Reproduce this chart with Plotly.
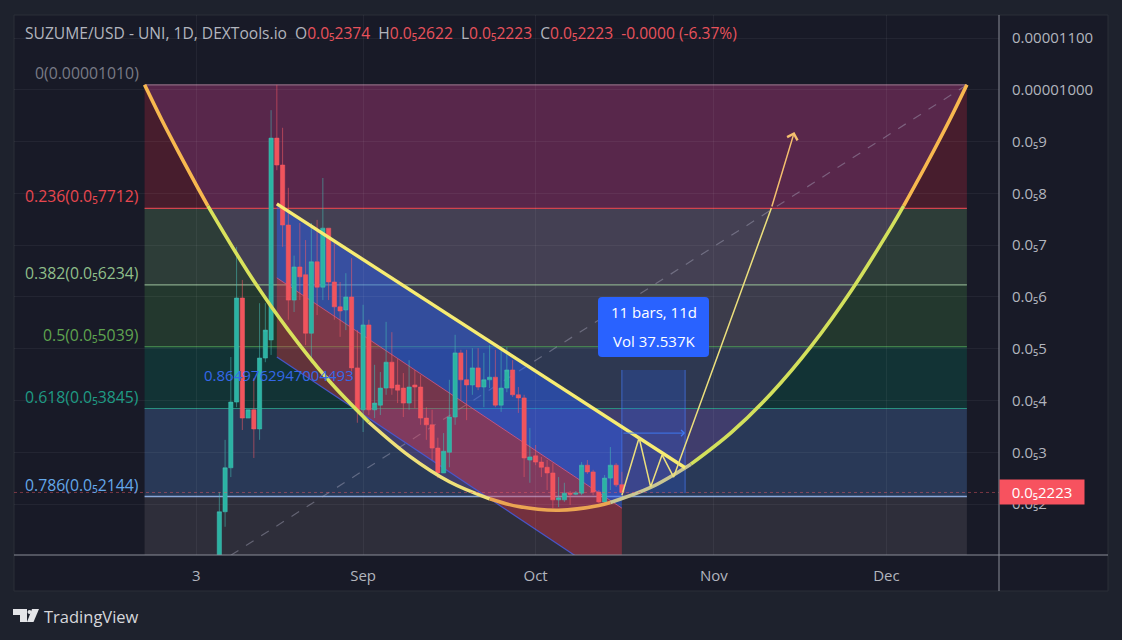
import pandas as pd
import plotly.graph_objects as go

FONT = "Open Sans"
W, H = 1122, 640
PLOT_L, PLOT_R, PLOT_T, PLOT_B = 14, 999, 15, 555

# Daily bars, prices in units of 0.000001 USD
bar_dates = pd.date_range("2024-08-07", periods=71, freq="D")
opens = [0.75, 1.85, 2.70, 3.97, 5.98, 3.66, 3.82, 3.45, 4.82, 5.17, 9.07, 8.55, 7.39, 5.94, 6.58, 6.43,
         5.30, 6.68, 6.19, 7.33, 6.29, 5.81, 5.75, 6.00, 4.63, 3.82, 5.46, 3.82, 3.91, 4.24, 4.74, 4.30,
         4.24, 3.95, 4.30, 4.26, 3.66, 3.53, 3.08, 2.60, 3.00, 3.68, 4.92, 4.40, 4.30, 4.63, 4.26, 4.40,
         4.45, 3.91, 4.24, 4.59, 4.11, 4.05, 2.85, 2.93, 2.81, 2.71, 2.60, 2.08, 2.08, 2.21, 2.19, 2.21,
         2.75, 2.62, 2.23, 2.04, 2.50, 2.75, 2.374]
highs = [2.23, 3.24, 4.84, 6.97, 6.33, 3.82, 4.43, 5.88, 5.88, 9.61, 10.10, 9.27, 8.11, 6.80, 7.43, 7.10,
         7.43, 7.49, 8.30, 7.33, 7.04, 6.29, 6.46, 6.75, 5.36, 5.85, 5.56, 4.69, 4.55, 5.52, 5.32, 4.80,
         4.53, 4.78, 4.59, 4.49, 3.87, 3.82, 3.28, 3.37, 4.40, 5.27, 4.98, 4.98, 5.01, 5.01, 4.92, 5.07,
         4.98, 4.98, 5.03, 4.78, 4.26, 4.11, 3.47, 3.14, 2.91, 2.85, 2.79, 2.52, 2.41, 2.25, 2.25, 2.81,
         2.85, 2.66, 2.27, 2.56, 3.10, 2.79, 2.622]
lows = [0.70, 1.56, 2.52, 3.87, 3.43, 3.66, 2.89, 3.24, 4.74, 4.88, 8.45, 6.97, 5.56, 5.71, 5.94, 5.07,
        4.72, 5.65, 5.94, 5.94, 5.56, 5.23, 5.36, 4.53, 3.57, 3.39, 3.72, 3.66, 3.72, 4.11, 4.11, 3.95,
        3.68, 3.82, 3.85, 3.53, 3.24, 2.85, 2.50, 2.60, 2.71, 3.53, 4.01, 3.62, 4.11, 4.20, 3.87, 4.24,
        3.87, 3.78, 4.16, 4.07, 3.76, 2.52, 2.41, 2.75, 2.52, 2.27, 1.92, 1.94, 2.04, 1.98, 2.17, 2.17,
        2.58, 2.17, 2.02, 2.02, 2.27, 2.33, 2.223]
closes = [1.85, 2.70, 3.97, 5.98, 3.66, 3.82, 3.45, 4.82, 5.36, 9.07, 8.55, 7.39, 5.94, 6.58, 6.39, 5.30,
          6.68, 6.19, 7.33, 6.29, 5.81, 5.73, 6.00, 4.63, 3.82, 5.46, 3.82, 3.95, 4.24, 4.74, 4.24, 4.20,
          3.95, 4.26, 4.26, 3.66, 3.53, 3.08, 2.60, 3.02, 3.68, 4.92, 4.40, 4.30, 4.63, 4.26, 4.40, 4.45,
          3.91, 4.24, 4.59, 4.11, 4.05, 2.89, 2.91, 2.81, 2.71, 2.60, 2.08, 2.12, 2.21, 2.19, 2.21, 2.75,
          2.62, 2.23, 2.04, 2.50, 2.75, 2.37, 2.223]

# Fibonacci retracement levels
fib_ratios = ["0", "0.236", "0.382", "0.5", "0.618", "0.786"]
fib_prices = [10.10, 7.712, 6.234, 5.039, 3.845, 2.144]
fib_price_text = ["0.00001010", "0.0₅7712", "0.0₅6234", "0.0₅5039", "0.0₅3845", "0.0₅2144"]
fib_text_colors = ["#787b86", "#e8474f", "#8fbf8a", "#5fa34f", "#1f9a84", "#64a8ea"]
fib_line_colors = ["#8a6a80", "#d2444e", "#87a889", "#4e9a55", "#2a8f80", "#8aa7d8"]
fib_line_widths = [1.2, 1.2, 1.4, 1.2, 1.2, 1.6]
fib_band_colors = ["#4a1e2e", "#2f4039", "#243a2f", "#123536", "#2a3b5a", "#30303c"]
fib_start, fib_end = "2024-07-25", "2024-12-15"
fib_floor = 0.9

# Rounded-bottom curve, grouped by stroke colour
curve_groups = [
    (["2024-07-25", "2024-07-28", "2024-07-31", "2024-08-03", "2024-08-05"],
     [10.10, 9.42, 8.78, 8.16, 7.76], "#f7b84f"),
    (["2024-08-05", "2024-08-12", "2024-08-19", "2024-08-26", "2024-09-02"],
     [7.76, 6.48, 5.36, 4.39, 3.58], "#d9e25c"),
    (["2024-09-02", "2024-09-09", "2024-09-16", "2024-09-23"],
     [3.58, 2.93, 2.43, 2.10], "#efe07a"),
    (["2024-09-23", "2024-09-28", "2024-10-05", "2024-10-12", "2024-10-14"],
     [2.10, 1.95, 1.88, 1.97, 2.03], "#eba552"),
    (["2024-10-14", "2024-10-21", "2024-10-28"],
     [2.03, 2.32, 2.77], "#c9c692"),
    (["2024-10-28", "2024-11-04", "2024-11-11", "2024-11-18", "2024-11-25", "2024-12-02", "2024-12-04"],
     [2.77, 3.38, 4.14, 5.06, 6.14, 7.38, 7.76], "#d3e05c"),
    (["2024-12-04", "2024-12-08", "2024-12-12", "2024-12-15"],
     [7.76, 8.57, 9.42, 10.10], "#f7b84f"),
]
curve_control_date, curve_control_price = "2024-10-05", -6.34

# Descending channel
channel_start, channel_end = "2024-08-17", "2024-10-16"
channel_top = [7.80, 3.47]
channel_mid = [6.37, 1.92]
channel_bottom = [4.84, 0.40]

# Resistance line and projected swing
resistance_dates = ["2024-08-17", "2024-10-27"]
resistance_prices = [7.80, 2.70]
swing_dates = ["2024-10-16", "2024-10-19", "2024-10-21", "2024-10-23", "2024-10-25", "2024-11-11"]
swing_prices = [2.17, 3.28, 2.33, 2.95, 2.52, 7.72]
target_date, target_price = "2024-11-15", 9.19

# Date-range measure
range_start, range_end = "2024-10-16", "2024-10-27"
range_top, range_bottom, range_mid = 4.59, 2.21, 3.37
range_lines = ["11 bars, 11d", "Vol 37.537K"]

# Trend line of the retracement tool
trend_dates = ["2024-08-09", "2024-12-15"]
trend_prices = [1.01, 10.10]

last_price = 2.223
last_price_text = "0.0₅2223"

y_tick_vals = [11, 10, 9, 8, 7, 6, 5, 4, 3, 2]
y_tick_text = ["0.00001100", "0.00001000", "0.0₅9", "0.0₅8", "0.0₅7", "0.0₅6", "0.0₅5", "0.0₅4", "0.0₅3", "0.0₅2"]
x_tick_vals = ["2024-08-03", "2024-09-01", "2024-10-01", "2024-11-01", "2024-12-01"]
x_tick_text = ["3", "Sep", "Oct", "Nov", "Dec"]


def px(x):
    return (x - PLOT_L) / (PLOT_R - PLOT_L)


def py(y):
    return (PLOT_B - y) / (PLOT_B - PLOT_T)


def path_pts(points):
    head, *rest = points
    return f"M {px(head[0])} {py(head[1])} " + " ".join(f"L {px(a)} {py(b)}" for a, b in rest) + " Z"


fig = go.Figure()

fig.add_trace(go.Candlestick(
    x=bar_dates, open=opens, high=highs, low=lows, close=closes,
    increasing=dict(line=dict(color="rgba(70,190,180,0.55)", width=1), fillcolor="#2bb3a3"),
    decreasing=dict(line=dict(color="rgba(245,90,100,0.55)", width=1), fillcolor="#f0545c"),
    hoverinfo="skip", showlegend=False,
))

for dates, prices, color in curve_groups:
    fig.add_trace(go.Scatter(x=dates, y=prices, mode="lines", hoverinfo="skip", showlegend=False,
                             line=dict(color=color, width=3.6, shape="spline")))

fig.add_trace(go.Scatter(x=resistance_dates, y=resistance_prices, mode="lines", hoverinfo="skip",
                         showlegend=False, line=dict(color="#f7ec72", width=3.4)))
fig.add_trace(go.Scatter(x=swing_dates, y=swing_prices, mode="lines", hoverinfo="skip",
                         showlegend=False, line=dict(color="#ecdf7c", width=1.5)))

shapes = []

# Outer panel and its dividers
shapes.append(dict(type="rect", xref="paper", yref="paper", layer="below",
                   x0=px(14), x1=px(1108), y0=py(591), y1=py(15),
                   fillcolor="#181a27", line=dict(color="#2a2e39", width=1)))

# Fibonacci bands, the lowest one running down to the chart floor
band_edges = fib_prices + [fib_floor]
for i, color in enumerate(fib_band_colors):
    shapes.append(dict(type="rect", xref="x", yref="y", layer="below",
                       x0=fib_start, x1=fib_end, y0=band_edges[i + 1], y1=band_edges[i],
                       fillcolor=color, opacity=0.94, line=dict(width=0)))

# Translucent body of the rounded bottom
shapes.append(dict(type="path", xref="x", yref="y", layer="below",
                   path=f"M {fib_start} {fib_prices[0]} Q {curve_control_date} {curve_control_price} "
                        f"{fib_end} {fib_prices[0]} Z",
                   fillcolor="rgba(160,80,195,0.2)", line=dict(width=0)))

for price, color, width in zip(fib_prices, fib_line_colors, fib_line_widths):
    shapes.append(dict(type="line", xref="x", yref="y", layer="below",
                       x0=fib_start, x1=fib_end, y0=price, y1=price, line=dict(color=color, width=width)))

shapes.append(dict(type="line", xref="x", yref="y", layer="below",
                   x0=trend_dates[0], x1=trend_dates[1], y0=trend_prices[0], y1=trend_prices[1],
                   line=dict(color="rgba(175,175,195,0.42)", width=1.2, dash="dash")))

# Channel halves
shapes.append(dict(type="path", xref="x", yref="y", layer="below",
                   path=f"M {channel_start} {channel_top[0]} L {channel_end} {channel_top[1]} "
                        f"L {channel_end} {channel_mid[1]} L {channel_start} {channel_mid[0]} Z",
                   fillcolor="rgba(41,98,255,0.45)", line=dict(width=0)))
shapes.append(dict(type="path", xref="x", yref="y", layer="below",
                   path=f"M {channel_start} {channel_mid[0]} L {channel_end} {channel_mid[1]} "
                        f"L {channel_end} {channel_bottom[1]} L {channel_start} {channel_bottom[0]} Z",
                   fillcolor="rgba(242,54,69,0.36)", line=dict(width=0)))
shapes.append(dict(type="line", xref="x", yref="y", layer="below",
                   x0=channel_start, x1=channel_end, y0=channel_mid[0], y1=channel_mid[1],
                   line=dict(color="rgba(225,90,130,0.75)", width=1)))
shapes.append(dict(type="line", xref="x", yref="y", layer="below",
                   x0=channel_start, x1=channel_end, y0=channel_bottom[0], y1=channel_bottom[1],
                   line=dict(color="rgba(70,90,215,0.9)", width=1.2)))

# Date-range measure box
shapes.append(dict(type="rect", xref="x", yref="y", layer="below",
                   x0=range_start, x1=range_end, y0=range_bottom, y1=range_top,
                   fillcolor="rgba(41,98,255,0.22)", line=dict(width=0)))
for edge in (range_start, range_end):
    shapes.append(dict(type="line", xref="x", yref="y", layer="below",
                       x0=edge, x1=edge, y0=range_bottom, y1=range_top,
                       line=dict(color="rgba(70,120,240,0.7)", width=1)))

# Last-price dotted marker line
shapes.append(dict(type="line", xref="paper", yref="y", layer="above",
                   x0=0, x1=1, y0=last_price, y1=last_price,
                   line=dict(color="rgba(240,90,100,0.45)", width=1, dash="dot")))

# Tooltip backing above the drawings
shapes.append(dict(type="path", xref="paper", yref="paper", layer="above",
                   path=(f"M {px(602)} {py(297)} L {px(705)} {py(297)} Q {px(709)} {py(297)} {px(709)} {py(301)} "
                         f"L {px(709)} {py(353)} Q {px(709)} {py(357)} {px(705)} {py(357)} L {px(602)} {py(357)} "
                         f"Q {px(598)} {py(357)} {px(598)} {py(353)} L {px(598)} {py(301)} "
                         f"Q {px(598)} {py(297)} {px(602)} {py(297)} Z"),
                   fillcolor="#2962ff", line=dict(width=0)))

# Axis dividers
shapes.append(dict(type="line", xref="paper", yref="paper", layer="above",
                   x0=px(999), x1=px(999), y0=py(591), y1=py(15), line=dict(color="#8a8d98", width=1)))
shapes.append(dict(type="line", xref="paper", yref="paper", layer="above",
                   x0=px(14), x1=px(1108), y0=py(555), y1=py(555), line=dict(color="#8a8d98", width=1)))

# Brand mark
logo_color = "#e4e5e8"
shapes.append(dict(type="path", xref="paper", yref="paper", layer="above",
                   path=path_pts([(13, 609), (27, 609), (27, 622), (20, 622), (20, 615), (13, 615)]),
                   fillcolor=logo_color, line=dict(width=0)))
shapes.append(dict(type="path", xref="paper", yref="paper", layer="above",
                   path=path_pts([(32, 609), (39, 609), (33.5, 622), (27, 622)]),
                   fillcolor=logo_color, line=dict(width=0)))
shapes.append(dict(type="circle", xref="paper", yref="paper", layer="above",
                   x0=px(27.5), x1=px(31.5), y0=py(614), y1=py(610),
                   fillcolor=logo_color, line=dict(width=0)))

annotations = []


def text_at(x, y, text, size, color, xanchor="left", yanchor="middle", **kw):
    annotations.append(dict(xref="paper", yref="paper", x=px(x), y=py(y), text=text, showarrow=False,
                            xanchor=xanchor, yanchor=yanchor,
                            font=dict(family=FONT, size=size, color=color), **kw))


RED = "#e8525c"
GREY = "#b2b5be"
header = (
    "SUZUME/USD - UNI, 1D, DEXTools.io&nbsp;&nbsp;"
    f"O<span style='color:{RED}'>0.0₅2374</span>&nbsp;&nbsp;"
    f"H<span style='color:{RED}'>0.0₅2622</span>&nbsp;&nbsp;"
    f"L<span style='color:{RED}'>0.0₅2223</span>&nbsp;&nbsp;"
    f"C<span style='color:{RED}'>0.0₅2223</span>&nbsp;&nbsp;"
    f"<span style='color:{RED}'>-0.0000 (-6.37%)</span>"
)
text_at(23, 33, header, 15.6, GREY)

for ratio, price, text, color in zip(fib_ratios, fib_prices, fib_price_text, fib_text_colors):
    annotations.append(dict(xref="x", yref="y", x=fib_start, y=price, text=f"{ratio}({text})", showarrow=False,
                            xanchor="right", yanchor="bottom", xshift=-5, yshift=0,
                            font=dict(family=FONT, size=15.8, color=color), borderpad=0))

annotations.append(dict(xref="x", yref="y", x="2024-08-04", y=4.49, text="0.8649762947004493", showarrow=False,
                        xanchor="left", yanchor="middle", font=dict(family=FONT, size=15, color="#3468e8")))

text_at(654, 312, range_lines[0], 15, "#ffffff", xanchor="center")
text_at(654, 341, range_lines[1], 15, "#ffffff", xanchor="center")

# Projected target arrow and the measure's direction arrow
annotations.append(dict(xref="x", yref="y", axref="x", ayref="y", x=target_date, y=target_price,
                        ax=swing_dates[-1], ay=swing_prices[-1], text="", showarrow=True,
                        arrowhead=4, arrowsize=1.4, arrowwidth=1.5, arrowcolor="#f4bf6e"))
annotations.append(dict(xref="x", yref="y", axref="x", ayref="y", x=range_end, y=range_mid,
                        ax=range_start, ay=range_mid, text="", showarrow=True,
                        arrowhead=4, arrowsize=1.2, arrowwidth=1, arrowcolor="#3f78f0"))

# Last-price tag on the scale
annotations.append(dict(xref="paper", yref="y", x=1, y=last_price, text=last_price_text, showarrow=False,
                        xanchor="left", yanchor="middle", width=84, height=24, bgcolor="#f7525f",
                        font=dict(family=FONT, size=15, color="#ffffff"), align="center", borderpad=0))

text_at(42, 617, "TradingView", 16.5, "#d6d7db")

fig.update_layout(
    width=W, height=H, autosize=False,
    margin=dict(l=PLOT_L, r=W - PLOT_R, t=PLOT_T, b=H - PLOT_B, pad=0),
    paper_bgcolor="#1e222d", plot_bgcolor="rgba(0,0,0,0)",
    showlegend=False, hovermode=False, boxgap=0.25, boxgroupgap=0.02,
    font=dict(family=FONT, color=GREY, size=15),
    shapes=shapes, annotations=annotations,
    xaxis=dict(
        type="date", range=["2024-07-02 07:00", "2024-12-20 14:00"],
        tickmode="array", tickvals=x_tick_vals, ticktext=x_tick_text,
        showgrid=True, gridcolor="rgba(255,255,255,0.05)", gridwidth=1,
        zeroline=False, showline=False, ticks="", ticklabelstandoff=10,
        tickfont=dict(size=15, color=GREY), rangeslider=dict(visible=False),
    ),
    yaxis=dict(
        side="right", range=[1.0145, 11.449], tickmode="array",
        tickvals=y_tick_vals, ticktext=y_tick_text,
        showgrid=True, gridcolor="rgba(255,255,255,0.05)", gridwidth=1,
        zeroline=False, showline=False, ticks="", ticklabelstandoff=12,
        tickfont=dict(size=15, color=GREY),
    ),
)

fig.write_html("out.html", config=dict(displayModeBar=False))
